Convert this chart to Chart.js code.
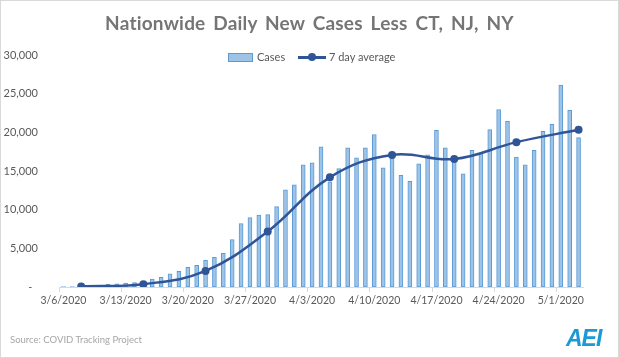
<!DOCTYPE html>
<html>
<head>
<meta charset="utf-8">
<script src="https://cdn.jsdelivr.net/npm/chart.js@4.4.1/dist/chart.umd.min.js"></script>
<style>
  html, body { margin: 0; padding: 0; background: #fff; }
  #wrap { position: relative; width: 619px; height: 358px; overflow: hidden; font-family: Lato, "Open Sans", sans-serif; }
  #frame { position: absolute; left: 0; top: 0; width: 619px; height: 358px; box-sizing: border-box; border: 1px solid #D9D9D9; pointer-events: none; }
  canvas { position: absolute; left: 0; top: 0; }
  #title { position: absolute; left: 0; width: 619px; top: 11px; text-align: center; font-weight: bold; font-size: 19px; color: #757575; word-spacing: 3px; letter-spacing: 0.2px; }
  .leg { position: absolute; font-size: 11px; color: #595959; line-height: 12px; }
  #legBox { position: absolute; left: 228px; top: 53px; width: 23px; height: 7px; background: #9DC3E6; border: 1px solid #5B9BD5; }
  #legLine { position: absolute; left: 298px; top: 56px; width: 28px; height: 2.5px; background: #2F5597; }
  #legDot { position: absolute; left: 308px; top: 53px; width: 8px; height: 8px; border-radius: 50%; background: #2F5597; }
  #source { position: absolute; left: 10px; top: 334px; font-size: 9.5px; color: #A6A6A6; }
  #logo { position: absolute; left: 566px; top: 325px; font-size: 23px; font-weight: 900; font-style: italic; color: #1B9AD6; letter-spacing: -1px; font-family: "Liberation Sans", Arial, sans-serif; }
</style>
</head>
<body>
<div id="wrap">
  <canvas id="c" width="619" height="358"></canvas>
  <div id="title">Nationwide  Daily New Cases Less CT, NJ, NY</div>
  <div id="legBox"></div>
  <div class="leg" style="left:257px; top:51px;">Cases</div>
  <div id="legLine"></div>
  <div id="legDot"></div>
  <div class="leg" style="left:329px; top:51px;">7 day average</div>
  <div id="source">Source: COVID Tracking Project</div>
  <div id="logo">AEI</div>
  <div id="frame"></div>
</div>
<script>
const categories = [
  "3/6/2020","3/7/2020","3/8/2020","3/9/2020","3/10/2020","3/11/2020","3/12/2020",
  "3/13/2020","3/14/2020","3/15/2020","3/16/2020","3/17/2020","3/18/2020","3/19/2020",
  "3/20/2020","3/21/2020","3/22/2020","3/23/2020","3/24/2020","3/25/2020","3/26/2020",
  "3/27/2020","3/28/2020","3/29/2020","3/30/2020","3/31/2020","4/1/2020","4/2/2020",
  "4/3/2020","4/4/2020","4/5/2020","4/6/2020","4/7/2020","4/8/2020","4/9/2020",
  "4/10/2020","4/11/2020","4/12/2020","4/13/2020","4/14/2020","4/15/2020","4/16/2020",
  "4/17/2020","4/18/2020","4/19/2020","4/20/2020","4/21/2020","4/22/2020","4/23/2020",
  "4/24/2020","4/25/2020","4/26/2020","4/27/2020","4/28/2020","4/29/2020","4/30/2020",
  "5/1/2020","5/2/2020","5/3/2020"
];
const cases = [
  60, 70, 120, 200, 250, 330, 400,
  500, 560, 700, 1040, 1260, 1690, 2030,
  2550, 2810, 3460, 3850, 4370, 6130, 8210,
  8990, 9300, 9350, 10390, 12560, 13200, 15790,
  16050, 18130, 13600, 15300, 18010, 16710, 18010,
  19700, 15410, 17140, 14440, 13660, 15940, 17100,
  20260, 18010, 16620, 14640, 17660, 17270, 20350,
  22950, 21430, 16800, 15790, 17660, 20130, 21040,
  26100, 22860, 19310
];
const avgDates = ["3/8/2020","3/15/2020","3/22/2020","3/29/2020","4/5/2020","4/12/2020","4/19/2020","4/26/2020","5/3/2020"];
const avgValues = [80, 370, 2080, 7170, 14180, 17080, 16550, 18730, 20330];
const xTickLabels = ["3/6/2020","3/13/2020","3/20/2020","3/27/2020","4/3/2020","4/10/2020","4/17/2020","4/24/2020","5/1/2020"];
const yTicks = [0, 5000, 10000, 15000, 20000, 25000, 30000];

const avgSeries = categories.map(d => {
  const k = avgDates.indexOf(d);
  return k >= 0 ? avgValues[k] : null;
});

const FONT = "Lato, 'Open Sans', sans-serif";

new Chart(document.getElementById('c'), {
  data: {
    labels: categories,
    datasets: [
      {
        type: 'line',
        label: '7 day average',
        data: avgSeries,
        spanGaps: true,
        tension: 0.4,
        borderColor: '#2F5597',
        borderWidth: 2.5,
        pointRadius: 4,
        pointBackgroundColor: '#2F5597',
        pointBorderWidth: 0,
        order: 0
      },
      {
        type: 'bar',
        label: 'Cases',
        data: cases,
        backgroundColor: '#9DC3E6',
        borderColor: '#5B9BD5',
        borderWidth: 1,
        borderSkipped: false,
        barThickness: 4,
        order: 1
      }
    ]
  },
  options: {
    responsive: false,
    animation: false,
    layout: { padding: { left: 0, right: 36, top: 55, bottom: 0 } },
    plugins: { legend: { display: false }, title: { display: false }, tooltip: { enabled: false } },
    scales: {
      x: {
        type: 'category',
        offset: true,
        afterFit: (s) => { s.height = 71; },
        grid: {
          offset: true,
          drawOnChartArea: false,
          drawTicks: true,
          tickLength: 5,
          color: (ctx) => (ctx.index % 7 === 0 && ctx.index < categories.length) ? '#D9D9D9' : 'rgba(0,0,0,0)'
        },
        border: { display: true, color: '#D9D9D9', width: 1 },
        ticks: {
          autoSkip: false,
          maxRotation: 0,
          minRotation: 0,
          padding: 2,
          color: '#595959',
          font: { family: FONT, size: 10.5 },
          callback: function (v, i) {
            const lab = categories[i];
            return xTickLabels.includes(lab) ? lab : '';
          }
        }
      },
      y: {
        min: 0,
        max: 30000,
        afterFit: (s) => { s.width = 59; },
        afterBuildTicks: (s) => { s.ticks = yTicks.map(v => ({ value: v })); },
        grid: { display: false },
        border: { display: false },
        ticks: {
          padding: 13,
          color: '#595959',
          font: { family: FONT, size: 11 },
          callback: (v) => v === 0 ? '-  ' : v.toLocaleString('en-US')
        }
      }
    }
  }
});
</script>
</body>
</html>
